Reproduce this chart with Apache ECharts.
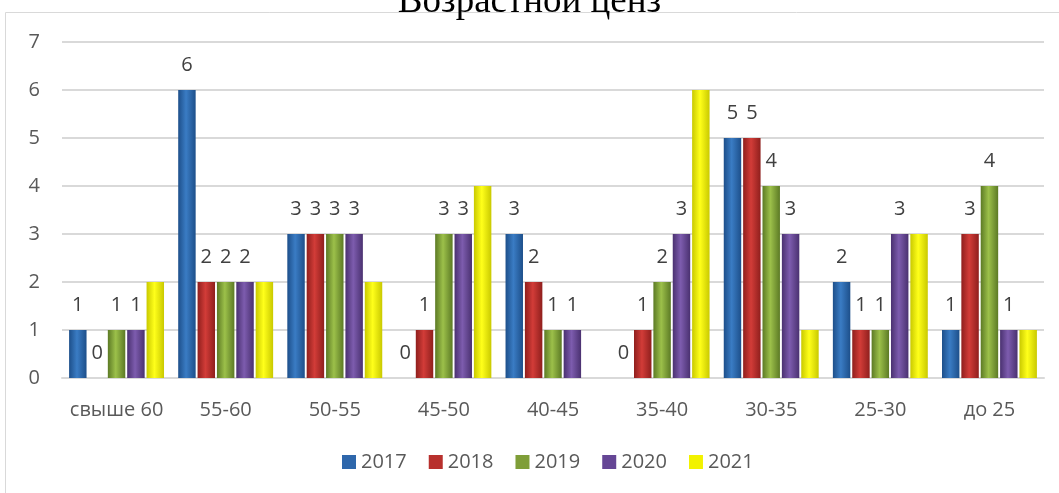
<!DOCTYPE html>
<html>
<head>
<meta charset="utf-8">
<script src="https://cdn.jsdelivr.net/npm/echarts@6/dist/echarts.min.js"></script>
<style>
  html, body { margin: 0; padding: 0; background: #fff; }
  #chart { width: 1059px; height: 493px; }
</style>
</head>
<body>
<div id="chart"></div>
<script>
// данные
let categories = ['свыше 60', '55-60', '50-55', '45-50', '40-45', '35-40', '30-35', '25-30', 'до 25']
let years = ['2017', '2018', '2019', '2020', '2021']
let v2017 = [1, 6, 3, 0, 3, 0, 5, 2, 1]
let v2018 = [0, 2, 3, 1, 2, 1, 5, 1, 3]
let v2019 = [1, 2, 3, 3, 1, 2, 4, 1, 4]
let v2020 = [1, 2, 3, 3, 1, 3, 3, 3, 1]
let v2021 = [2, 2, 2, 4, 0, 6, 1, 3, 1]
let yTicks = [0, 1, 2, 3, 4, 5, 6, 7]

let values = [v2017, v2018, v2019, v2020, v2021]
// цвета: край, середина
let colors = [
  ['#1d4f8a', '#3a7cc4'],
  ['#8f1f1d', '#d23c38'],
  ['#5c7a25', '#9cc04a'],
  ['#4a3170', '#7d5cae'],
  ['#c9c900', '#ffff1a']
]
let legendColors = ['#2e67ab', '#b8302d', '#7f9e38', '#654695', '#f2f200']

function grad(c) {
  return new echarts.graphic.LinearGradient(0, 0, 1, 0, [
    { offset: 0, color: c[0] },
    { offset: 0.45, color: c[1] },
    { offset: 1, color: c[0] }
  ])
}

let myChart = echarts.init(document.getElementById('chart'))

let series = years.map((y, i) => ({
  name: y,
  type: 'bar',
  data: values[i],
  barGap: '11%',
  barCategoryGap: '13%',
  itemStyle: { color: grad(colors[i]) },
  label: {
    show: i < 4,
    position: 'top',
    distance: 15,
    fontSize: 20,
    fontFamily: 'Open Sans',
    color: '#404040'
  }
}))

let opt = {
  animation: false,
  backgroundColor: '#fff',
  title: {
    text: 'Возрастной ценз',
    left: 'center',
    top: -21,
    textStyle: {
      fontFamily: 'Liberation Serif',
      fontWeight: 'normal',
      fontSize: 37,
      color: '#000'
    }
  },
  graphic: [{
    type: 'rect',
    shape: { x: 5.5, y: 12.5, width: 1100, height: 600 },
    style: { fill: 'none', stroke: '#d9d9d9', lineWidth: 1 },
    silent: true
  }],
  legend: {
    data: years.map((y, i) => ({ name: y, itemStyle: { color: legendColors[i] } })),
    bottom: 16,
    left: 337,
    itemWidth: 14,
    itemHeight: 14,
    itemGap: 22,
    icon: 'rect',
    textStyle: { fontFamily: 'Open Sans', fontSize: 20, color: '#595959' }
  },
  grid: { left: 62, right: 15, top: 42, bottom: 115 },
  xAxis: {
    type: 'category',
    data: categories,
    axisLine: { lineStyle: { color: '#d9d9d9', width: 2 } },
    axisTick: { show: false },
    axisLabel: { interval: 0, fontFamily: 'Open Sans', fontSize: 20, color: '#595959', margin: 22 }
  },
  yAxis: {
    type: 'value',
    min: yTicks[0],
    max: yTicks[yTicks.length - 1],
    interval: 1,
    axisLine: { show: false },
    axisTick: { show: false },
    axisLabel: { fontFamily: 'Open Sans', fontSize: 20, color: '#595959', margin: 22 },
    splitLine: { lineStyle: { color: '#d9d9d9', width: 2 } }
  },
  series: series
}

myChart.setOption(opt)
</script>
</body>
</html>
